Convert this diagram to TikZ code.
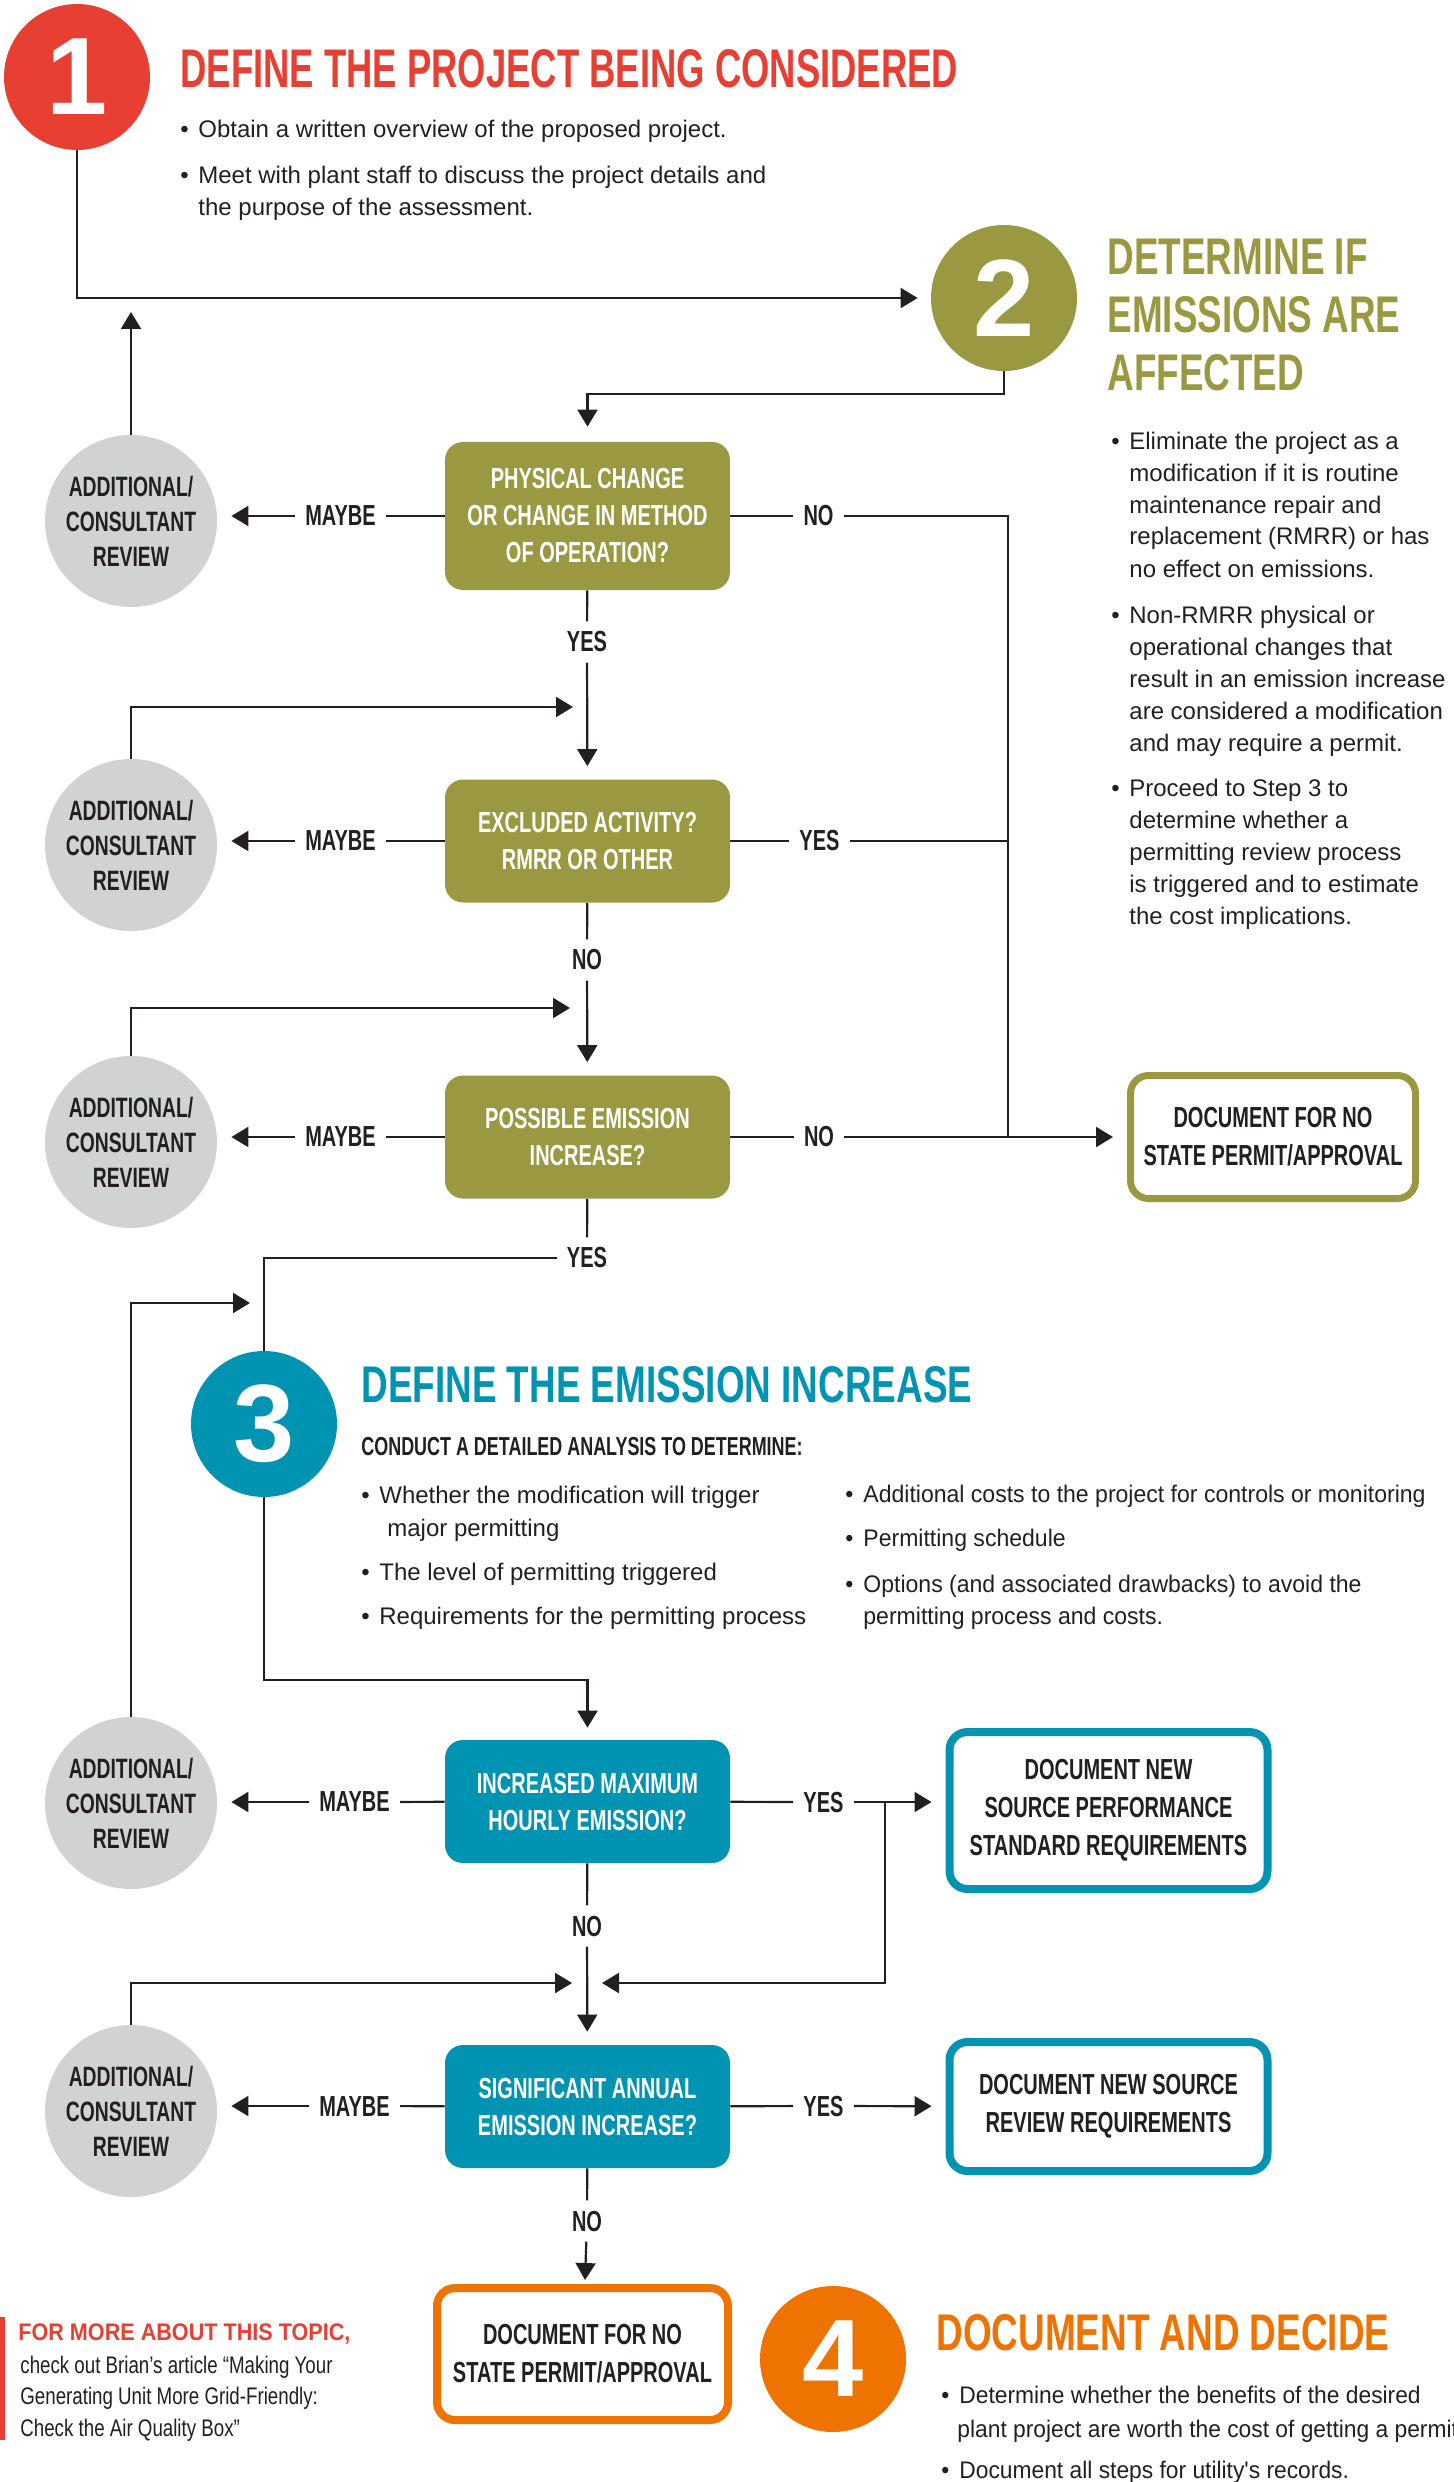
\documentclass[tikz,border=0pt]{standalone}
\usepackage{fontspec}
\setmainfont{Liberation Sans}
\newfontfamily\HeadA[FakeStretch=0.67]{Liberation Sans}
\newfontfamily\HeadB[FakeStretch=0.715]{Liberation Sans}
\newfontfamily\CondF[FakeStretch=0.69]{Liberation Sans}
\newfontfamily\SideF[FakeStretch=0.78]{Liberation Sans}
\newfontfamily\SideH[FakeStretch=0.9]{Liberation Sans}
\newfontfamily\NarrowF[FakeStretch=0.96]{Liberation Sans}
\newfontfamily\NarrowG[FakeStretch=0.95]{Liberation Sans}
\usetikzlibrary{arrows.meta,calc}
\pgfdeclarelayer{bg}
\pgfsetlayers{bg,main}
\definecolor{cred}{HTML}{E83F33}
\definecolor{colive}{HTML}{9A9942}
\definecolor{cteal}{HTML}{0093B2}
\definecolor{corange}{HTML}{EF7300}
\definecolor{cgray}{HTML}{D1D2D4}
\definecolor{ctext}{HTML}{231F20}
\newcommand{\bulletbox}{\makebox[9pt][l]{•}}
\tikzset{
  ln/.style={draw=ctext,line width=1.1pt},
  arr/.style={ln,-{Triangle[length=8.5pt,width=10pt]}},
  dec/.style={rounded corners=9pt,minimum width=142.5pt,minimum height=61.5pt,inner sep=0pt,
    text=white,align=center,font=\CondF\bfseries\fontsize{14.5}{18.5}\selectfont},
  rev/.style={circle,fill=cgray,minimum size=86pt,inner sep=0pt,text=ctext,align=center,
    font=\CondF\bfseries\fontsize{14}{17.5}\selectfont},
  docb/.style={rounded corners=9pt,draw,line width=4pt,fill=white,inner sep=0pt,text=ctext,
    align=center,font=\CondF\bfseries\fontsize{14.5}{19}\selectfont},
  lbl/.style={inner sep=5pt,text=ctext,font=\CondF\bfseries\fontsize{14.5}{17}\selectfont},
  num/.style={circle,minimum size=73pt,inner sep=0pt,text=white,
    font=\bfseries\fontsize{55}{55}\selectfont},
  ttl/.style={anchor=base west,inner sep=0pt,font=\HeadB\bfseries\fontsize{25.8}{29}\selectfont},
  txt/.style={anchor=base west,inner sep=0pt,text=ctext,font=\fontsize{12}{14}\selectfont},
  txtn/.style={txt,font=\NarrowF\fontsize{12}{14}\selectfont},
  txtg/.style={txt,font=\NarrowG\fontsize{12}{14}\selectfont},
  side/.style={anchor=base west,inner sep=0pt,text=ctext,font=\SideF\fontsize{12}{14}\selectfont},
}
\begin{document}
\begin{tikzpicture}[x=0.5pt,y=-0.5pt]
\useasboundingbox (0,0) rectangle (1453,2482);

% ---------- step circles ----------
\node[num,fill=cred] (c1) at (77,77) {1};
\node[num,fill=colive] (c2) at (1004,298) {2};
\node[num,fill=cteal] (c3) at (264,1424) {3};
\node[num,fill=corange] (c4) at (833,2359) {4};

% ---------- step 1 text ----------
\node[anchor=base west,inner sep=0pt,text=cred,font=\HeadA\bfseries\fontsize{27.2}{30}\selectfont] (t1) at (180,88) {DEFINE THE PROJECT BEING CONSIDERED};
\node[txt] (s1a) at (180,138) {\bulletbox Obtain a written overview of the proposed project.};
\node[txt] (s1b) at (180,184) {\bulletbox Meet with plant staff to discuss the project details and};
\node[txt] (s1c) at (198,216) {the purpose of the assessment.};

% ---------- step 2 text ----------
\node[ttl,text=colive] (t2a) at (1107,275) {DETERMINE IF};
\node[ttl,text=colive] (t2b) at (1107,333) {EMISSIONS ARE};
\node[ttl,text=colive] (t2c) at (1107,390.5) {AFFECTED};
\node[txt] at (1111,450) {\bulletbox Eliminate the project as a};
\node[txt] at (1129,481) {modification if it is routine};
\node[txt] at (1129,513) {maintenance repair and};
\node[txt] at (1129,545) {replacement (RMRR) or has};
\node[txt] at (1129,577) {no effect on emissions.};
\node[txt] at (1111,623) {\bulletbox Non-RMRR physical or};
\node[txt] at (1129,655) {operational changes that};
\node[txt] at (1129,687) {result in an emission increase};
\node[txt] at (1129,719) {are considered a modification};
\node[txt] at (1129,751) {and may require a permit.};
\node[txt] at (1111,796) {\bulletbox Proceed to Step 3 to};
\node[txt] at (1129,828) {determine whether a};
\node[txt] at (1129,860) {permitting review process};
\node[txt] at (1129,892) {is triggered and to estimate};
\node[txt] at (1129,924) {the cost implications.};

% ---------- step 3 text ----------
\node[ttl,text=cteal] (t3) at (361,1402) {DEFINE THE EMISSION INCREASE};
\node[anchor=base west,inner sep=0pt,text=ctext,font=\CondF\bfseries\fontsize{13}{15}\selectfont] (t3s) at (361,1455) {CONDUCT A DETAILED ANALYSIS TO DETERMINE:};
\node[txt] at (361,1503) {\bulletbox Whether the modification will trigger};
\node[txt] at (387,1536) {major permitting};
\node[txt] at (361,1580) {\bulletbox The level of permitting triggered};
\node[txt] at (361,1624) {\bulletbox Requirements for the permitting process};
\node[txtn] at (845,1502) {\bulletbox Additional costs to the project for controls or monitoring};
\node[txtn] at (845,1546) {\bulletbox Permitting schedule};
\node[txtn] at (845,1592) {\bulletbox Options (and associated drawbacks) to avoid the};
\node[txtn] at (863,1624) {permitting process and costs.};

% ---------- step 4 text ----------
\node[ttl,text=corange] (t4) at (936,2350) {DOCUMENT AND DECIDE};
\node[txtg] at (941,2403) {\bulletbox Determine whether the benefits of the desired};
\node[txtg] at (957,2437) {plant project are worth the cost of getting a permit.};
\node[txtg] at (941,2478) {\bulletbox Document all steps for utility's records.};

% ---------- sidebar ----------
\fill[cred] (0,2317) rectangle (5,2440);
\node[anchor=base west,inner sep=0pt,text=cred,font=\SideH\bfseries\fontsize{12}{14}\selectfont] (sb0) at (18,2340) {FOR MORE ABOUT THIS TOPIC,};
\node[side] (sb1) at (20,2373) {check out Brian’s article “Making Your};
\node[side] (sb2) at (20,2404) {Generating Unit More Grid-Friendly:};
\node[side] (sb3) at (20,2436) {Check the Air Quality Box”};

% ---------- decision boxes ----------
\node[dec,fill=colive,minimum height=74pt] (b1) at (587.5,516) {PHYSICAL CHANGE\\OR CHANGE IN METHOD\\OF OPERATION?};
\node[dec,fill=colive] (b2) at (587.5,841) {EXCLUDED ACTIVITY?\\RMRR OR OTHER};
\node[dec,fill=colive] (b3) at (587.5,1137) {POSSIBLE EMISSION\\INCREASE?};
\node[dec,fill=cteal] (b4) at (587.5,1801.5) {INCREASED MAXIMUM\\HOURLY EMISSION?};
\node[dec,fill=cteal] (b5) at (587.5,2106.5) {SIGNIFICANT ANNUAL\\EMISSION INCREASE?};

% ---------- review circles ----------
\node[rev] (a1) at (131,521) {ADDITIONAL/\\CONSULTANT\\REVIEW};
\node[rev] (a2) at (131,845) {ADDITIONAL/\\CONSULTANT\\REVIEW};
\node[rev] (a3) at (131,1142) {ADDITIONAL/\\CONSULTANT\\REVIEW};
\node[rev] (a4) at (131,1803) {ADDITIONAL/\\CONSULTANT\\REVIEW};
\node[rev] (a5) at (131,2111) {ADDITIONAL/\\CONSULTANT\\REVIEW};

% ---------- document boxes ----------
\node[docb,draw=colive,line width=3.5pt,minimum width=142.5pt,minimum height=61.5pt] (d1) at (1273,1137) {DOCUMENT FOR NO\\STATE PERMIT/APPROVAL};
\node[docb,draw=cteal,minimum width=159pt,minimum height=78.5pt] (d2) at (1108.5,1810.5) {DOCUMENT NEW\\SOURCE PERFORMANCE\\STANDARD REQUIREMENTS};
\node[docb,draw=cteal,minimum width=159pt,minimum height=64.5pt] (d3) at (1108.5,2106.5) {DOCUMENT NEW SOURCE\\REVIEW REQUIREMENTS};
\node[docb,draw=corange,minimum width=145.5pt,minimum height=66pt] (d4) at (582.5,2354) {DOCUMENT FOR NO\\STATE PERMIT/APPROVAL};

% ---------- labels ----------
\node[lbl] (m1) at (340.5,516) {MAYBE};
\node[lbl] (n1) at (818.5,516) {NO};
\node[lbl] (y1) at (587,642) {YES};
\node[lbl] (m2) at (340.5,841) {MAYBE};
\node[lbl] (y2) at (819.5,841) {YES};
\node[lbl] (n2) at (587,960) {NO};
\node[lbl] (m3) at (340.5,1137) {MAYBE};
\node[lbl] (n3) at (819,1137) {NO};
\node[lbl] (y3) at (587,1258) {YES};
\node[lbl] (m4) at (354.5,1802) {MAYBE};
\node[lbl] (y4) at (823.5,1802) {YES};
\node[lbl] (n4) at (587,1926) {NO};
\node[lbl] (m5) at (354.5,2106) {MAYBE};
\node[lbl] (y5) at (823.5,2106) {YES};
\node[lbl] (n5) at (587,2221) {NO};

% ---------- coordinates ----------
\coordinate (j1) at (1008,1137);
\coordinate (f2) at (573,707);
\coordinate (f3) at (570,1008);
\coordinate (k1) at (264,1680);
\coordinate (f4) at (250,1303);
\coordinate (j4) at (885,1802);
\coordinate (f5r) at (602,1983);
\coordinate (f5l) at (572,1983);

% ---------- connectors ----------
\begin{pgfonlayer}{bg}
\draw[arr,shorten >=6.5pt] (c1) |- (c2);
\draw[arr,shorten >=7.5pt] (c2) -- ++(0,96) -| (b1);
\draw[arr] (a1) -- ++(0,-84) -- ++(0,-125);
% box 1
\draw[ln] (b1) -- (m1);
\draw[arr,shorten >=7pt] (m1) -- (m1 -| a1.east);
\draw[ln] (b1) -- (n1);
\draw[ln] (n1) -| (j1);
\draw[ln] (b1) -- (y1);
\draw[arr,shorten >=6.5pt] (y1) -- (b2);
\draw[arr] (a2) |- (f2);
% box 2
\draw[ln] (b2) -- (m2);
\draw[arr,shorten >=7pt] (m2) -- (m2 -| a2.east);
\draw[ln] (b2) -- (y2);
\draw[ln] (y2) -- (y2 -| j1);
\draw[ln] (b2) -- (n2);
\draw[arr,shorten >=6.5pt] (n2) -- (b3);
\draw[arr] (a3) |- (f3);
% box 3
\draw[ln] (b3) -- (m3);
\draw[arr,shorten >=7pt] (m3) -- (m3 -| a3.east);
\draw[ln] (b3) -- (n3);
\draw[arr,shorten >=7pt] (n3) -- (d1);
\draw[ln] (b3) -- (y3);
\draw[arr,shorten >=6pt] (y3) -| (k1) -| (b4);
\draw[arr] (a4) |- (f4);
% box 4
\draw[ln] (b4) -- (m4);
\draw[arr,shorten >=7pt] (m4) -- (m4 -| a4.east);
\draw[ln] (b4) -- (y4);
\draw[arr,shorten >=7pt] (y4) -- (y4 -| d2.west);
\draw[arr] (j4) |- (f5r);
\draw[ln] (b4) -- (n4);
\draw[arr,shorten >=6.5pt] (n4) -- (b5);
\draw[arr] (a5) |- (f5l);
% box 5
\draw[ln] (b5) -- (m5);
\draw[arr,shorten >=7pt] (m5) -- (m5 -| a5.east);
\draw[ln] (b5) -- (y5);
\draw[arr,shorten >=7pt] (y5) -- (d3);
\draw[ln] (b5) -- (n5);
\draw[arr,shorten >=2pt] (n5) -- (d4);
\end{pgfonlayer}
\end{tikzpicture}
\end{document}
